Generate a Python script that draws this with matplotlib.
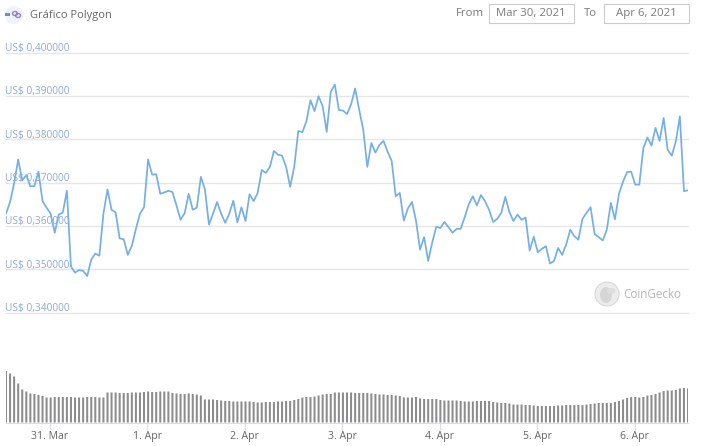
import matplotlib
matplotlib.use("Agg")
import matplotlib.pyplot as plt
from matplotlib.patches import Rectangle, Circle, Ellipse

plt.rcParams['font.family'] = ['Open Sans', 'DejaVu Sans']

title = "Gráfico Polygon"
from_date = "Mar 30, 2021"
to_date = "Apr 6, 2021"
price_ticks = [0.34, 0.35, 0.36, 0.37, 0.38, 0.39, 0.40]
price_labels = ["US$ 0,340000", "US$ 0,350000", "US$ 0,360000", "US$ 0,370000",
                "US$ 0,380000", "US$ 0,390000", "US$ 0,400000"]
date_ticks = [10.84, 34.84, 58.84, 82.84, 106.84, 130.84, 154.84]
date_labels = ["31. Mar", "1. Apr", "2. Apr", "3. Apr", "4. Apr", "5. Apr", "6. Apr"]

prices = [
    .3628, .3655, .3698, .3753, .3705, .3717, .3691, .3692, .3725, .3657,
    .3642, .3628, .3584, .3626, .3631, .3681, .3506, .3492, .3498, .3496,
    .3484, .3522, .3536, .3531, .3628, .3684, .3637, .3631, .3571, .3569,
    .3533, .3554, .3593, .3628, .3643, .3753, .3718, .3719, .3674, .3677,
    .3681, .3678, .3647, .3614, .3629, .3674, .3637, .3642, .3713, .3684,
    .3603, .3628, .3655, .3628, .3607, .3628, .3658, .3608, .3643, .3611,
    .3673, .3657, .3676, .3729, .3722, .3736, .3773, .3764, .3762, .3736,
    .3690, .3736, .3819, .3816, .3841, .3890, .3865, .3899, .3876, .3817,
    .3909, .3926, .3867, .3866, .3858, .3880, .3917, .3868, .3822, .3736,
    .3791, .3769, .3787, .3796, .3771, .3750, .3668, .3676, .3612, .3640,
    .3655, .3612, .3545, .3574, .3519, .3562, .3598, .3595, .3609, .3597,
    .3584, .3593, .3593, .3620, .3650, .3668, .3647, .3671, .3657, .3637,
    .3609, .3616, .3630, .3667, .3632, .3611, .3626, .3614, .3619, .3543,
    .3575, .3539, .3547, .3553, .3513, .3519, .3549, .3533, .3557, .3591,
    .3576, .3568, .3616, .3630, .3643, .3581, .3574, .3566, .3591, .3653,
    .3615, .3674, .3702, .3724, .3725, .3695, .3695, .3779, .3804, .3785,
    .3826, .3796, .3849, .3775, .3762, .3795, .3853, .3680, .3682,
]

volumes = [
    52, 49, 46, 39, 33, 31, 29, 28.5, 27.5, 26.5, 25, 25, 25.5, 25.5, 25.5, 25.5,
    25.5, 25, 25, 25, 25.5, 25.5, 25.5, 25, 25, 30, 30, 30, 29.5, 29.5,
    29.5, 30, 30, 30, 30.5, 31, 30.5, 30.5, 31, 31, 31, 29.5, 29, 28.5, 28.5,
    29, 28.5, 28, 27, 23, 23, 23, 22.5, 22, 21.5, 21.5,
    21, 21, 21, 21, 21, 20.5, 20, 20, 20.5, 20.5, 20.5, 21, 21, 21.5, 21.5,
    22.5, 23.5, 25, 25.5, 25.5, 26, 27, 28, 28.5, 28.5, 30, 30, 30, 30, 30,
    29.5, 29.5, 29.5, 29.5, 29, 28.5, 28, 28, 27.5, 27.5, 27, 26.5, 25, 25,
    25, 25.5, 24, 23.5, 23.5, 23.5, 23.5, 22.5, 22, 22, 22, 22, 21.5, 21,
    21, 21, 21.5, 21.5, 21.5, 21.5, 20.5, 20, 19.5, 19.5, 19, 18, 18, 18,
    17.5, 17.5, 17, 16.5, 16.5, 16.5, 16.5, 16.5, 17, 17, 17.5, 17.5, 17.5,
    17.5, 17.5, 18, 18.5, 19, 19.5, 19.5, 19.5, 19.5, 20.5, 21.5, 23, 24.5,
    25.5, 25.5, 25, 25.5, 27, 27.5, 28.5, 30, 31.5, 32, 32, 32.5, 34, 34.5, 34,
]
hours = list(range(len(prices)))
volumes = volumes[:len(prices)]
hours_v = hours[:len(volumes)]

W, H = 702, 446
fig = plt.figure(figsize=(W / 100, H / 100), dpi=100, facecolor='white')

def axes_px(x0, y_top, x1, y_bot, **kw):
    return fig.add_axes([x0 / W, 1 - y_bot / H, (x1 - x0) / W, (y_bot - y_top) / H], **kw)

# Price panel
ax = axes_px(6, 52.5, 688, 312.5)
ax.set_xlim(0, 168)
ax.set_ylim(0.34, 0.40)
ax.patch.set_alpha(0)
for s in ax.spines.values():
    s.set_visible(False)
ax.set_xticks([])
ax.set_yticks(price_ticks)
ax.tick_params(axis='y', length=0, labelleft=False)
ax.grid(axis='y', color='#e6e6e6', lw=1.0, clip_on=False)
ax.set_axisbelow(True)
for v, lab in zip(price_ticks, price_labels):
    ax.annotate(lab, xy=(0, v), xycoords=('axes fraction', 'data'),
                xytext=(-0.8, -1.0), textcoords='offset points',
                fontsize=7.3, color='#8fa9d8', ha='left', va='bottom', zorder=1)
ax.plot(hours, prices, color='#74afe8', lw=1.25, solid_joinstyle='round', zorder=3)

# Volume panel
axv = axes_px(6, 371, 688, 422.5)
axv.set_xlim(0, 168)
axv.set_ylim(0, 51.5)
axv.patch.set_alpha(0)
for s in ('top', 'left', 'right'):
    axv.spines[s].set_visible(False)
axv.spines['bottom'].set_color('#d8dde6')
axv.spines['bottom'].set_linewidth(0.8)
bars = axv.bar(hours_v, volumes, width=0.5, color='#8c8c8c', linewidth=0)
for b in bars:
    b.set_snap(False)
axv.set_yticks([])
axv.set_xticks(date_ticks)
axv.set_xticklabels(date_labels, fontsize=7.6, color='#666666')
axv.tick_params(axis='x', length=5, width=0.8, color='#d8dde6', pad=1)

# Header and decorations in pixel coordinates
deco = fig.add_axes([0, 0, 1, 1], zorder=5)
deco.set_xlim(0, W)
deco.set_ylim(H, 0)
deco.axis('off')
deco.patch.set_alpha(0)

deco.add_patch(Circle((14, 15), 9, fc='#f1f3fa', ec='none'))
deco.add_patch(Rectangle((5, 13), 5, 3, fc='#6c8fc4', ec='none'))
deco.add_patch(Ellipse((15, 13.5), 5, 4, fc='none', ec='#9a7fc8', lw=1))
deco.add_patch(Ellipse((18, 15.5), 5, 4, fc='none', ec='#9a7fc8', lw=1))
deco.text(30, 15.5, title, fontsize=8.0, color='#666666', ha='left', va='center')

deco.text(456, 14, "From", fontsize=8.2, color='#7a7a7a', ha='left', va='center')
deco.add_patch(Rectangle((488.5, 3.5), 85, 19, fc='white', ec='#cccccc', lw=0.8))
deco.text(531, 13.5, from_date, fontsize=8.2, color='#7a7a7a', ha='center', va='center')
deco.text(584, 14, "To", fontsize=8.2, color='#7a7a7a', ha='left', va='center')
deco.add_patch(Rectangle((603.5, 3.5), 85, 19, fc='white', ec='#cccccc', lw=0.8))
deco.text(646, 13.5, to_date, fontsize=8.2, color='#7a7a7a', ha='center', va='center')

deco.add_patch(Circle((607, 294), 12, fc='#ececec', ec='#d9d9d9', lw=0.8))
deco.add_patch(Ellipse((606, 295), 12, 16, fc='#d6d6d6', ec='none'))
deco.add_patch(Ellipse((611, 291), 9, 6, fc='#dddddd', ec='none'))
deco.text(623, 294, "CoinGecko", fontsize=8.4, color='#b5b5b5', ha='left', va='center')

fig.savefig('out.png', dpi=100, facecolor='white')
